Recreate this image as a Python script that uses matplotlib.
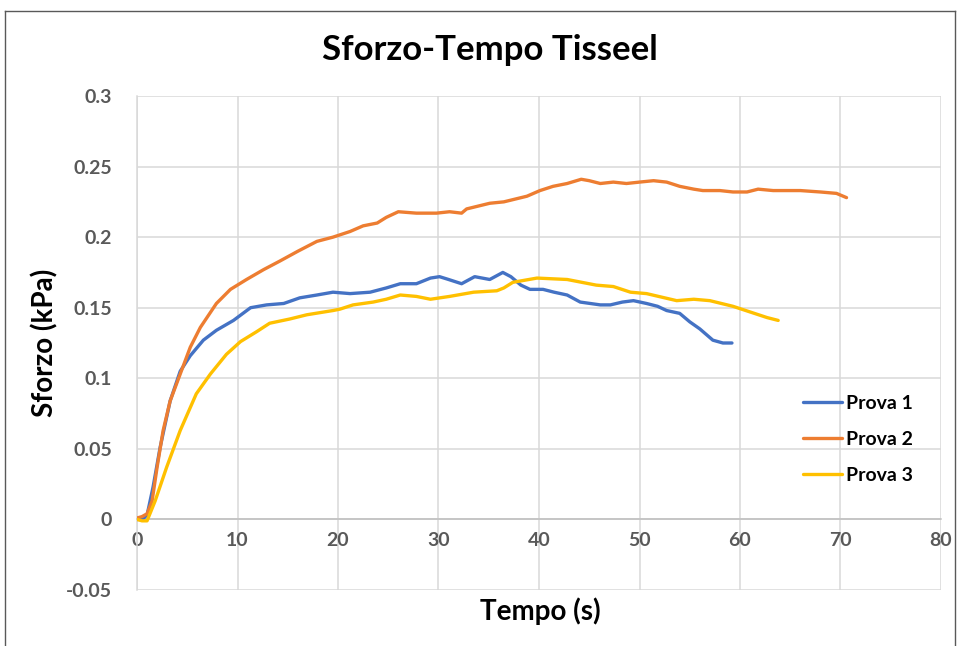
import matplotlib
matplotlib.use("Agg")
import matplotlib.pyplot as plt
from matplotlib.lines import Line2D

plt.rcParams['font.family'] = ['Lato', 'DejaVu Sans']

# Prova 1
t1 = [0, 0.5, 1.0, 1.6, 2.3, 3.3, 4.3, 5.3, 6.6, 7.9, 9.6, 11.3, 12.9, 14.6, 16.2,
      17.9, 19.5, 21.2, 23.2, 24.8, 26.2, 27.8, 29.2, 30.1, 31.0, 32.3, 33.6, 35.1,
      36.4, 37.2, 38.2, 39.1, 40.4, 41.5, 42.8, 44.1, 46.1, 47.1, 48.3, 49.4, 50.7,
      51.8, 52.7, 54.0, 55.0, 56.0, 57.3, 58.3, 59.2]
s1 = [0, 0.0, 0.003, 0.023, 0.051, 0.084, 0.105, 0.116, 0.127, 0.134, 0.141, 0.150,
      0.152, 0.153, 0.157, 0.159, 0.161, 0.160, 0.161, 0.164, 0.167, 0.167, 0.171,
      0.172, 0.170, 0.167, 0.172, 0.170, 0.175, 0.172, 0.166, 0.163, 0.163, 0.161,
      0.159, 0.154, 0.152, 0.152, 0.154, 0.155, 0.153, 0.151, 0.148, 0.146, 0.140,
      0.135, 0.127, 0.125, 0.125]

# Prova 2
t2 = [0, 0.5, 1.0, 1.5, 2.0, 2.6, 3.3, 4.3, 5.3, 6.3, 7.9, 9.3, 10.9, 12.6, 14.2,
      16.0, 17.9, 19.5, 21.2, 22.5, 23.9, 24.8, 26.0, 27.8, 29.8, 31.1, 32.3, 32.8,
      35.1, 36.5, 38.8, 40.1, 41.4, 42.8, 44.2, 45.0, 46.1, 47.4, 48.7, 50.0, 51.4,
      52.7, 54.0, 55.4, 56.3, 58.0, 59.3, 60.7, 61.8, 63.3, 66.0, 68.0, 69.6, 70.6]
s2 = [0.001, 0.002, 0.004, 0.013, 0.037, 0.063, 0.084, 0.103, 0.122, 0.136, 0.153,
      0.163, 0.170, 0.177, 0.183, 0.190, 0.197, 0.200, 0.204, 0.208, 0.210, 0.214,
      0.218, 0.217, 0.217, 0.218, 0.217, 0.220, 0.224, 0.225, 0.229, 0.233, 0.236,
      0.238, 0.241, 0.240, 0.238, 0.239, 0.238, 0.239, 0.240, 0.239, 0.236, 0.234,
      0.233, 0.233, 0.232, 0.232, 0.234, 0.233, 0.233, 0.232, 0.231, 0.228]

# Prova 3
t3 = [0, 0.5, 1.0, 1.8, 2.95, 4.3, 5.9, 7.3, 8.9, 10.3, 11.9, 13.2, 15.2, 16.9,
      19.5, 20.2, 21.5, 23.5, 24.8, 26.2, 27.8, 29.2, 31.1, 33.5, 35.8, 36.5, 37.4,
      39.8, 42.8, 45.7, 47.4, 49.1, 50.7, 53.7, 55.4, 57.0, 59.3, 61.0, 62.7, 63.8]
s3 = [0, -0.001, -0.001, 0.013, 0.037, 0.063, 0.089, 0.103, 0.117, 0.126, 0.133,
      0.139, 0.142, 0.145, 0.148, 0.149, 0.152, 0.154, 0.156, 0.159, 0.158, 0.156,
      0.158, 0.161, 0.162, 0.164, 0.168, 0.171, 0.170, 0.166, 0.165, 0.161, 0.160,
      0.155, 0.156, 0.155, 0.151, 0.147, 0.143, 0.141]

series_names = ["Prova 1", "Prova 2", "Prova 3"]
colors = ["#4472C4", "#ED7D31", "#FFC000"]

x_ticks = [0, 10, 20, 30, 40, 50, 60, 70, 80]
y_ticks = [-0.05, 0, 0.05, 0.1, 0.15, 0.2, 0.25, 0.3]
y_tick_labels = ["-0.05", "0", "0.05", "0.1", "0.15", "0.2", "0.25", "0.3"]

W, H = 958, 646
fig = plt.figure(figsize=(W / 100, H / 100), dpi=100)
ax = fig.add_axes([137 / W, 1 - 590 / H, (941 - 137) / W, (590 - 96) / H])

grid_c = "#D9D9D9"
for (t, s, c, n) in zip([t1, t2, t3], [s1, s2, s3], colors, series_names):
    ax.plot(t, s, color=c, lw=2.4, label=n, solid_capstyle='round', zorder=3)

ax.set_xlim(0, 80)
ax.set_ylim(-0.05, 0.3)
ax.set_xticks(x_ticks)
ax.set_yticks(y_ticks)
ax.set_yticklabels(y_tick_labels)
ax.grid(True, color=grid_c, lw=1.1, zorder=0)
ax.set_axisbelow(True)

for side in ["top", "right"]:
    ax.spines[side].set_visible(False)
ax.spines["left"].set_color(grid_c)
ax.spines["left"].set_linewidth(1.1)
ax.spines["bottom"].set_position(("data", 0))
ax.spines["bottom"].set_color("#BFBFBF")
ax.spines["bottom"].set_linewidth(1.1)

ax.tick_params(axis='both', length=0, labelsize=14, labelcolor="#595959")
ax.tick_params(axis='x', pad=9)
ax.tick_params(axis='y', pad=18)
for lab in ax.get_xticklabels() + ax.get_yticklabels():
    lab.set_fontweight('bold')

fig.text(490 / W, 1 - 50 / H, "Sforzo-Tempo Tisseel", ha='center', va='center',
         fontsize=25, fontweight='bold', color='black')
fig.text(45 / W, 1 - 343 / H, "Sforzo (kPa)", ha='center', va='center',
         rotation=90, fontsize=20, fontweight='bold', color='black')
fig.text(540 / W, 1 - 611 / H, "Tempo (s)", ha='center', va='center',
         fontsize=20, fontweight='bold', color='black')

leg = ax.legend(loc='upper left', bbox_to_anchor=(789 / W, 1 - 381 / H),
                bbox_transform=fig.transFigure, frameon=False,
                prop={'weight': 'bold', 'size': 14}, handlelength=2.0,
                handletextpad=0.25, labelspacing=0.99, borderpad=0.2)

# outer chart border
border_c = "#595959"
fig.add_artist(Line2D([5 / W, 955 / W], [1 - 11 / H, 1 - 11 / H], transform=fig.transFigure,
                      color=border_c, lw=1))
fig.add_artist(Line2D([5 / W, 5 / W], [0, 1 - 11 / H], transform=fig.transFigure,
                      color=border_c, lw=1))
fig.add_artist(Line2D([955 / W, 955 / W], [0, 1 - 11 / H], transform=fig.transFigure,
                      color=border_c, lw=1))

fig.savefig("out.png", dpi=100)
